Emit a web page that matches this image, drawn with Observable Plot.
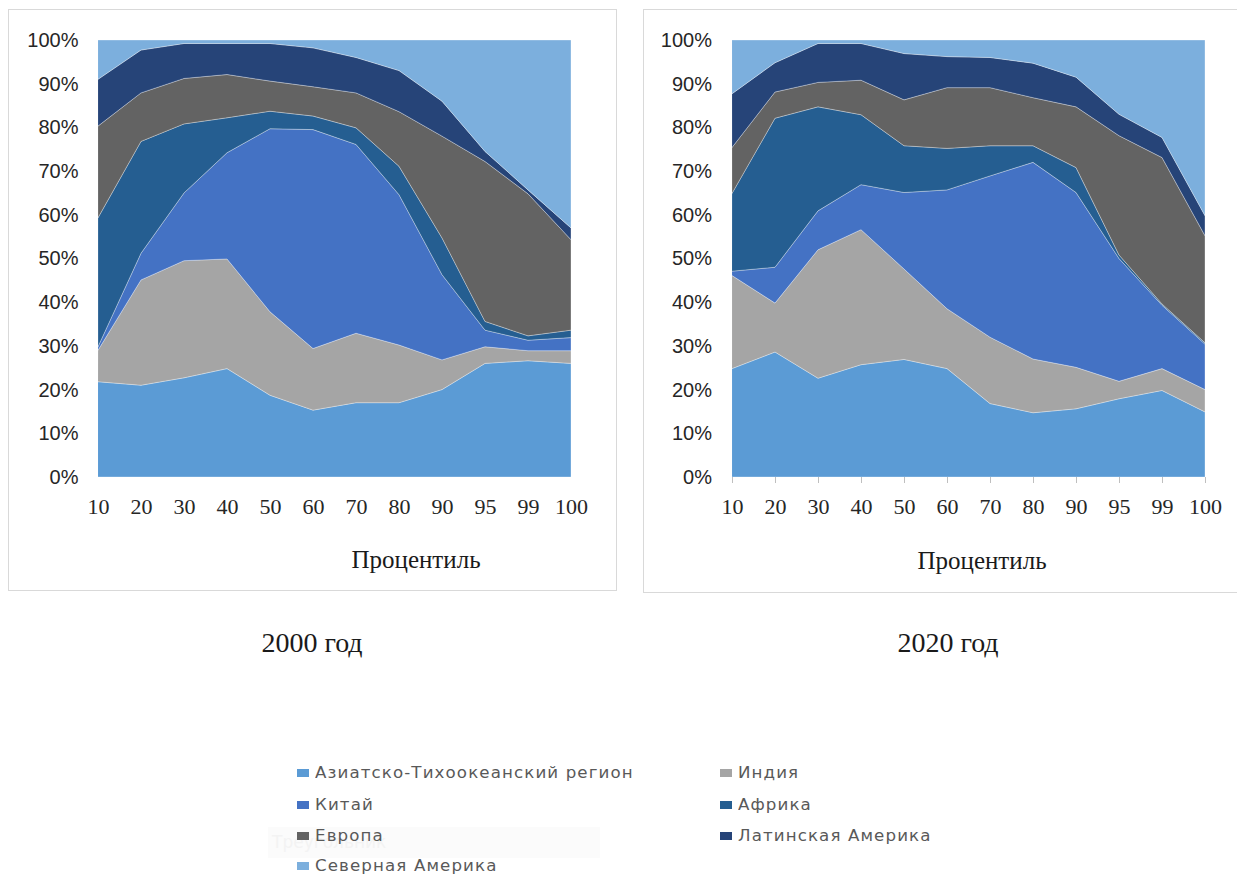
<!DOCTYPE html>
<html>
<head>
<meta charset="utf-8">
<script src="https://cdn.jsdelivr.net/npm/d3@7"></script>
<script src="https://cdn.jsdelivr.net/npm/@observablehq/plot@0.6"></script>
<style>
  html, body { margin: 0; padding: 0; background: #ffffff; overflow: hidden; }
  body { width: 1237px; height: 874px; position: relative; }
  .panel { position: absolute; border: 1px solid #d9d9d9; box-sizing: border-box; background: #fff; overflow: hidden; }
  .panel svg { position: absolute; left: 0; top: 0; max-width: none !important; }
  .xlabel { position: absolute; font-family: "Liberation Serif", serif; font-size: 25px; color: #1a1a1a; white-space: nowrap; transform: translateX(-50%); }
  .title { position: absolute; font-family: "Liberation Serif", serif; font-size: 28px; color: #1a1a1a; white-space: nowrap; transform: translateX(-50%); }
  .leg { position: absolute; font-family: "DejaVu Sans", sans-serif; font-size: 15px; color: #595959; white-space: nowrap; letter-spacing: 1px; line-height: 16px; }
  .leg .sw { display: inline-block; width: 12px; height: 8px; margin-right: 6px; vertical-align: 1px; }
  .leg .tx { display: inline-block; transform: scaleX(1.11); transform-origin: left center; }
  .ghost { position: absolute; left: 268px; top: 827px; width: 332px; height: 31px; background: #fbfbfb; color: #f3f3f3; font-family: "DejaVu Sans", sans-serif; font-size: 17px; line-height: 31px; padding-left: 4px; box-sizing: border-box; }
</style>
</head>
<body>
<div id="p1" class="panel" style="left:8px; top:9px; width:609px; height:582px;"></div>
<div id="p2" class="panel" style="left:643px; top:9px; width:594px; height:584px; border-right:none;"></div>
<div class="xlabel" style="left:416px; top:546px;">Процентиль</div>
<div class="xlabel" style="left:982px; top:547px;">Процентиль</div>
<div class="title" style="left:312px; top:627px;">2000 год</div>
<div class="title" style="left:948px; top:627px;">2020 год</div>
<div class="ghost">Треугольник</div>
<div id="legend"></div>
<script>
// ---- data ----
const percentiles = ["10", "20", "30", "40", "50", "60", "70", "80", "90", "95", "99", "100"];
const yTicks = [0, 10, 20, 30, 40, 50, 60, 70, 80, 90, 100];
const regions = [
  "Азиатско-Тихоокеанский регион",
  "Индия",
  "Китай",
  "Африка",
  "Европа",
  "Латинская Америка",
  "Северная Америка"
];
const colors = ["#5B9BD5", "#A5A5A5", "#4472C4", "#255E91", "#636363", "#264478", "#7CAFDD"];

// shares (%) for 2000
const asia2000     = [21.8, 21.0, 22.7, 24.8, 18.7, 15.3, 17.0, 17.0, 20.0, 26.0, 26.6, 26.0];
const india2000    = [7.2, 24.1, 26.8, 25.1, 19.1, 14.1, 15.9, 13.2, 6.8, 3.8, 2.3, 2.9];
const china2000    = [0.8, 6.1, 15.5, 24.3, 41.9, 50.1, 43.2, 34.4, 19.5, 3.8, 2.4, 3.0];
const africa2000   = [29.5, 25.6, 15.8, 8.0, 4.0, 3.1, 3.8, 6.5, 8.4, 2.0, 1.0, 1.7];
const europe2000   = [21.0, 11.1, 10.4, 9.9, 6.9, 6.7, 8.0, 12.5, 23.3, 36.6, 32.5, 20.7];
const latam2000    = [10.7, 9.8, 8.0, 7.1, 8.6, 8.9, 8.1, 9.4, 8.0, 2.3, 0.9, 2.7];
const namerica2000 = [9.0, 2.3, 0.8, 0.8, 0.8, 1.8, 4.0, 7.0, 14.0, 25.5, 34.3, 43.0];

// shares (%) for 2020
const asia2020     = [24.8, 28.6, 22.6, 25.7, 26.9, 24.8, 16.8, 14.7, 15.6, 17.9, 19.8, 14.9];
const india2020    = [21.3, 11.2, 29.4, 30.9, 20.7, 13.7, 15.2, 12.3, 9.5, 4.0, 5.0, 5.1];
const china2020    = [1.0, 8.2, 8.9, 10.3, 17.5, 27.2, 36.9, 45.0, 40.0, 28.1, 14.5, 10.4];
const africa2020   = [17.8, 34.1, 23.8, 16.0, 10.7, 9.5, 6.9, 3.8, 5.7, 0.8, 0.3, 0.3];
const europe2020   = [10.5, 6.0, 5.6, 7.9, 10.5, 13.9, 13.3, 11.0, 13.9, 27.3, 33.5, 24.5];
const latam2020    = [12.3, 6.7, 8.9, 8.4, 10.6, 7.1, 6.9, 7.9, 6.8, 4.9, 4.6, 4.6];
const namerica2020 = [12.3, 5.2, 0.8, 0.8, 3.1, 3.8, 4.0, 5.3, 8.5, 17.0, 22.3, 40.2];

const series2000 = [asia2000, india2000, china2000, africa2000, europe2000, latam2000, namerica2000];
const series2020 = [asia2020, india2020, china2020, africa2020, europe2020, latam2020, namerica2020];

function toLong(series) {
  const out = [];
  series.forEach((vals, i) => {
    vals.forEach((v, j) => out.push({p: percentiles[j], region: regions[i], v}));
  });
  return out;
}

function chart(series, o) {
  return Plot.plot({
    width: o.width,
    height: o.height,
    marginLeft: o.ml,
    marginRight: o.mr,
    marginTop: o.mt,
    marginBottom: o.mb,
    style: {background: "transparent", color: "#262626", overflow: "visible"},
    x: {type: "point", domain: percentiles, padding: 0, label: null},
    y: {domain: [0, 100], label: null},
    color: {domain: regions, range: colors},
    marks: [
      Plot.areaY(toLong(series), {
        x: "p", y: "v", z: "region", fill: "region",
        stroke: "#ffffff", strokeOpacity: 0.45, strokeWidth: 0.7
      }),
      Plot.axisY({
        ticks: yTicks, tickFormat: d => d + "%", tickSize: 0, tickPadding: 20,
        fontSize: 20, fontFamily: "Liberation Sans, sans-serif", label: null
      }),
      Plot.axisX({
        tickSize: o.tickSize, tickPadding: o.tickPad, stroke: "#bfbfbf",
        fontSize: 22, fontFamily: "Liberation Serif, serif", label: null
      })
    ]
  });
}

document.getElementById("p1").appendChild(
  chart(series2000, {width: 609, height: 582, ml: 89, mr: 47, mt: 30, mb: 115, tickSize: 0, tickPad: 21})
);
document.getElementById("p2").appendChild(
  chart(series2020, {width: 600, height: 584, ml: 87.5, mr: 39, mt: 30, mb: 117, tickSize: 6, tickPad: 15})
);

// legend
const legPos = [
  [297, 765], [720, 765],
  [297, 797], [720, 797],
  [297, 828], [720, 828],
  [297, 858]
];
const legend = document.getElementById("legend");
regions.forEach((r, i) => {
  const d = document.createElement("div");
  d.className = "leg";
  d.style.left = legPos[i][0] + "px";
  d.style.top = legPos[i][1] + "px";
  d.innerHTML = '<span class="sw" style="background:' + colors[i] + '"></span><span class="tx">' + r + '</span>';
  legend.appendChild(d);
});
</script>
</body>
</html>
